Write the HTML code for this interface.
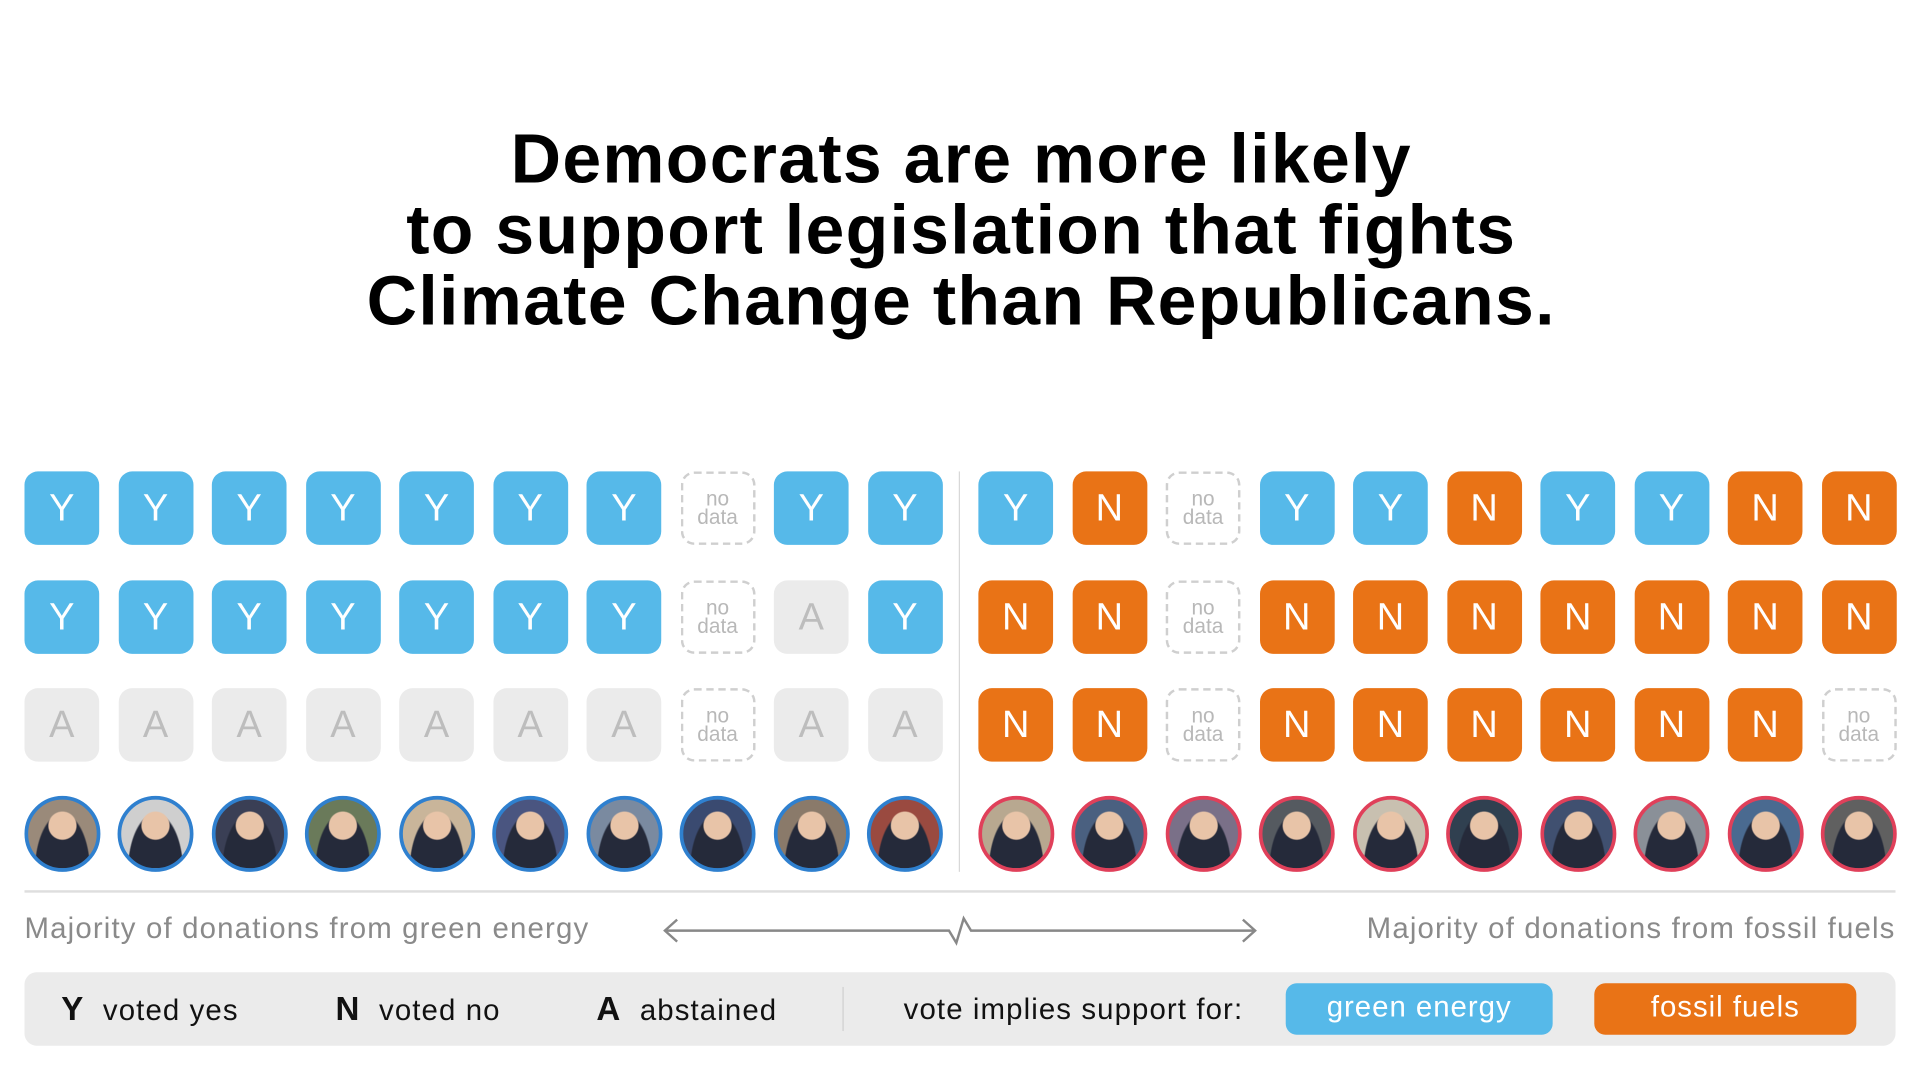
<!DOCTYPE html>
<html><head><meta charset="utf-8">
<style>
html,body{margin:0;padding:0;background:#fff;width:1920px;height:1080px;overflow:hidden;font-family:"Liberation Sans",sans-serif}
#w{position:absolute;left:0;top:0;width:1568px;height:882px;transform:scale(1.2245);transform-origin:0 0}
.t{position:absolute;left:0;width:1570px;text-align:center;font-weight:bold;font-size:57px;line-height:58px;color:#000;top:101px;letter-spacing:1.05px}
.b{position:absolute;width:61px;height:60px;border-radius:11px;box-sizing:border-box;display:flex;align-items:center;justify-content:center;font-size:31px;color:#fff}
.Y{background:#56b9e9}.N{background:#e97316}.A{background:#ebebeb;color:#bdbdbd}
.D{border:2px dashed #cfcfcf;color:#b8b8b8;font-size:17px;line-height:15px;text-align:center;flex-direction:column}
.p{position:absolute;width:62px;height:62px;border-radius:50%;box-sizing:border-box;overflow:hidden}
.lab{position:absolute;top:745px;font-size:24px;letter-spacing:0.95px;color:#8a8a8a}
.leg{position:absolute;left:20px;top:794px;width:1528px;height:60px;background:#ebebeb;border-radius:10px}
.li{position:absolute;top:15px;font-size:24px;letter-spacing:0.9px;color:#111}
.pill{position:absolute;top:9px;height:42px;border-radius:9px;color:#fff;font-size:24px;letter-spacing:0.8px;text-align:center;line-height:40px}
</style></head><body>
<div id="w">
<div class="t">Democrats are more likely<br>to support legislation that fights<br>Climate Change than Republicans.</div>
<div id="grid"></div>
<div style="position:absolute;left:783px;top:385px;width:1px;height:327px;background:#d8d8d8"></div>
<div style="position:absolute;left:20px;top:727px;width:1528px;height:2px;background:#dedede"></div>
<div class="lab" style="left:20px">Majority of donations from green energy</div>
<div class="lab" style="right:20px">Majority of donations from fossil fuels</div>
<svg style="position:absolute;left:535px;top:745px" width="500" height="30">
<polyline points="18,6 8,15 18,24" fill="none" stroke="#888" stroke-width="2"/>
<polyline points="480,6 490,15 480,24" fill="none" stroke="#888" stroke-width="2"/>
<polyline points="8,15 240,15 246,25 252,5 258,15 490,15" fill="none" stroke="#888" stroke-width="2"/>
</svg>
<div class="leg">
<div class="li" style="left:30px"><b style="font-size:27px">Y</b>&nbsp;&nbsp;voted yes</div>
<div class="li" style="left:254px"><b style="font-size:27px">N</b>&nbsp;&nbsp;voted no</div>
<div class="li" style="left:467px"><b style="font-size:27px">A</b>&nbsp;&nbsp;abstained</div>
<div style="position:absolute;left:668px;top:12px;width:1px;height:36px;background:#d0d0d0"></div>
<div class="li" style="left:718px;top:17px">vote implies support for:</div>
<div class="pill" style="left:1030px;width:218px;background:#56b9e9">green energy</div>
<div class="pill" style="left:1282px;width:214px;background:#e97316">fossil fuels</div>
</div>
</div>
<script>
const demVotes=[["Y","Y","A"],["Y","Y","A"],["Y","Y","A"],["Y","Y","A"],["Y","Y","A"],["Y","Y","A"],["Y","Y","A"],["D","D","D"],["Y","A","A"],["Y","Y","A"]];
const repVotes=[["Y","N","N"],["N","N","N"],["D","D","D"],["Y","N","N"],["Y","N","N"],["N","N","N"],["Y","N","N"],["Y","N","N"],["N","N","N"],["N","N","D"]];
const demColors=["#9a8a7a","#cfcfcf","#3a3f55","#6a7a5a","#c9b59a","#4a5580","#7a8aa0","#3a4a70","#8a7a6a","#9a4a40"];
const repColors=["#b8a890","#4a6080","#7a7088","#555a60","#c8c0b0","#304050","#405070","#8a9098","#4a6a90","#606060"];
const W=document.getElementById('w');
const rowY=r=>385+r*88.5;
const colX=(side,i)=>(side?799:20)+i*76.5;
function draw(votes,colors,side){
 votes.forEach((col,i)=>{
  col.forEach((v,r)=>{
   const d=document.createElement('div');
   
   
   d.className='b '+v;
   d.style.left=colX(side,i)+'px';d.style.top=rowY(r)+'px';
   if(v==='D'){d.innerHTML='<span>no</span><span>data</span>';}else d.textContent=v;
   W.appendChild(d);
  });
  const p=document.createElement('div');
  
  
  p.className='p';
  p.style.left=(colX(side,i)-0.5)+'px';p.style.top='650px';
  p.style.border='3px solid '+(side?'#e0405a':'#2f80cf');
  p.style.background='radial-gradient(circle at 50% 38%, #e8c4a8 0 11px, transparent 12px), radial-gradient(ellipse at 50% 105%, #252a3a 0 22px, transparent 23px), '+colors[i];
  W.appendChild(p);
 });
}
draw(demVotes,demColors,0);
draw(repVotes,repColors,1);
</script>
</body></html>
